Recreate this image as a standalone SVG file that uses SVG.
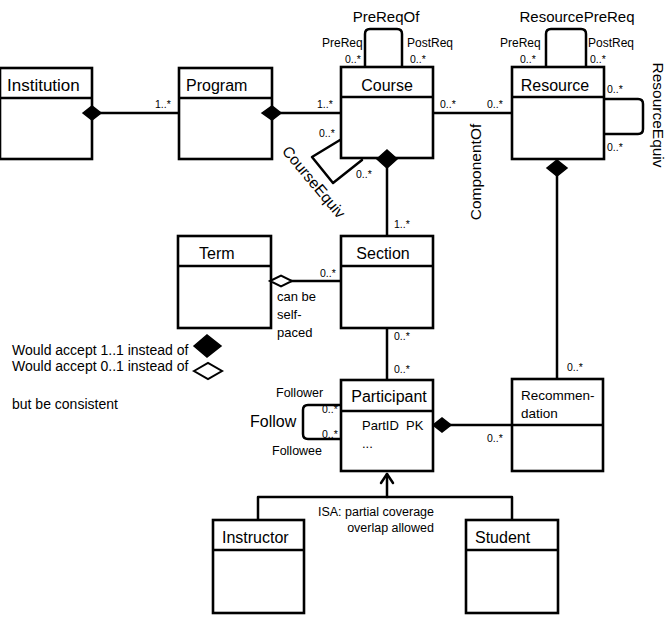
<svg xmlns="http://www.w3.org/2000/svg" width="665" height="618" viewBox="0 0 665 618">
<style>
.box{fill:#fff;stroke:#000;stroke-width:2.6}
.sep{stroke:#000;stroke-width:2.6}
.ln{fill:none;stroke:#000;stroke-width:2.5;stroke-linejoin:round;stroke-linecap:round}
.t{font-family:"Liberation Sans",Arial,sans-serif;fill:#000}
.cn{font-size:16px}
.m{font-size:10.5px}
.r{font-size:12px}
.a{font-size:15.5px}
.fd{fill:#000;stroke:#000;stroke-width:1.5}
.od{fill:#fff;stroke:#000;stroke-width:2}
</style>
<rect width="665" height="618" fill="#fff"/>

<g id="connectors">
  <!-- Institution - Program -->
  <path class="ln" d="M92,113 H179"/>
  <text class="t m" x="155" y="108">1..*</text>
  <!-- Program - Course -->
  <path class="ln" d="M272,113 H341"/>
  <text class="t m" x="317" y="108">1..*</text>
  <!-- PreReqOf -->
  <path class="ln" d="M365,67 V34 Q365,29 370,29 H397 Q402,29 402,34 V67"/>
  <text class="t a" x="386" y="22" text-anchor="middle" style="font-size:15px">PreReqOf</text>
  <text class="t r" x="322" y="47">PreReq</text>
  <text class="t m" x="345" y="63">0..*</text>
  <text class="t r" x="407" y="47">PostReq</text>
  <text class="t m" x="410" y="63">0..*</text>
  <!-- ResourcePreReq -->
  <path class="ln" d="M546,67 V34 Q546,29 551,29 H581 Q586,29 586,34 V67"/>
  <text class="t a" x="577" y="22" text-anchor="middle" style="font-size:15px">ResourcePreReq</text>
  <text class="t r" x="500" y="47">PreReq</text>
  <text class="t m" x="520" y="63">0..*</text>
  <text class="t r" x="588" y="47">PostReq</text>
  <text class="t m" x="590" y="63">0..*</text>
  <!-- ResourceEquiv -->
  <path class="ln" d="M604,99 H638 Q643,99 643,104 V129 Q643,134 638,134 H604"/>
  <text class="t m" x="607" y="93">0..*</text>
  <text class="t m" x="607" y="151">0..*</text>
  <text class="t a" transform="translate(658,115) rotate(90)" y="5.5" text-anchor="middle">ResourceEquiv</text>
  <!-- ComponentOf -->
  <path class="ln" d="M433,113 H512"/>
  <text class="t m" x="440" y="108">0..*</text>
  <text class="t m" x="487" y="108">0..*</text>
  <text class="t a" transform="translate(475,172) rotate(-90)" y="5.5" text-anchor="middle">ComponentOf</text>
  <!-- CourseEquiv -->
  <path class="ln" d="M340,140 L312,157 L333,183 L362,160"/>
  <text class="t m" x="319" y="137">0..*</text>
  <text class="t m" x="356" y="178">0..*</text>
  <text class="t a" transform="translate(314,182) rotate(50)" y="5.5" text-anchor="middle">CourseEquiv</text>
  <!-- Course - Section -->
  <path class="ln" d="M387,158 V236"/>
  <text class="t m" x="394" y="228">1..*</text>
  <!-- Term - Section -->
  <path class="ln" d="M281,281 H341"/>
  <text class="t m" x="320" y="277">0..*</text>
  <text class="t" style="font-size:13px" x="277" y="301">can be</text>
  <text class="t" style="font-size:13px" x="277" y="319">self-</text>
  <text class="t" style="font-size:13px" x="277" y="337">paced</text>
  <!-- Section - Participant -->
  <path class="ln" d="M387,328 V380"/>
  <text class="t m" x="394" y="340">0..*</text>
  <text class="t m" x="394" y="373">0..*</text>
  <!-- Follow -->
  <path class="ln" d="M341,405 H308 Q303,405 303,410 V434 Q303,439 308,439 H341"/>
  <text class="t" style="font-size:12.5px" x="276" y="397">Follower</text>
  <text class="t" style="font-size:12.5px" x="272" y="455">Followee</text>
  <text class="t" style="font-size:16px" x="250" y="427">Follow</text>
  <text class="t m" x="322" y="413">0..*</text>
  <text class="t m" x="322" y="438">0..*</text>
  <!-- Participant - Recommendation -->
  <path class="ln" d="M442,425 H512"/>
  <text class="t m" x="487" y="442">0..*</text>
  <!-- Resource - Recommendation -->
  <path class="ln" d="M557,160 V379"/>
  <text class="t m" x="567" y="371">0..*</text>
  <!-- ISA -->
  <path class="ln" d="M387,497 V474"/>
  <path class="ln" d="M381,483 L387,474 L393,483"/>
  <path class="ln" d="M258,520 V497 H512 V520"/>
  <text class="t" style="font-size:12.5px" x="434" y="516" text-anchor="end">ISA: partial coverage</text>
  <text class="t" style="font-size:12.5px" x="434" y="532" text-anchor="end">overlap allowed</text>
</g>

<g id="Institution">
  <rect class="box" x="0" y="68" width="92" height="91"/>
  <line class="sep" x1="0" y1="98" x2="92" y2="98"/>
  <text class="t cn" x="7" y="91" style="font-size:17px">Institution</text>
  <path class="fd" d="M83,113 L92,106 L101,113 L92,120 Z"/>
</g>
<g id="Program">
  <rect class="box" x="179" y="68" width="93" height="91"/>
  <line class="sep" x1="179" y1="98" x2="272" y2="98"/>
  <text class="t cn" x="186" y="91">Program</text>
  <path class="fd" d="M262,113 L272,106 L281,113 L272,120 Z"/>
</g>
<g id="Course">
  <rect class="box" x="341" y="67" width="92" height="91"/>
  <line class="sep" x1="341" y1="97" x2="433" y2="97"/>
  <text class="t cn" x="387" y="91" text-anchor="middle">Course</text>
  <path class="fd" d="M387,150 L397,159 L387,168 L377,159 Z"/>
</g>
<g id="Resource">
  <rect class="box" x="512" y="67" width="92" height="92"/>
  <line class="sep" x1="512" y1="97" x2="604" y2="97"/>
  <text class="t cn" x="555" y="91" text-anchor="middle">Resource</text>
  <path class="fd" d="M557,160 L567,168 L557,176 L547,168 Z"/>
</g>
<g id="Term">
  <rect class="box" x="178" y="236" width="93" height="92"/>
  <line class="sep" x1="178" y1="266" x2="271" y2="266"/>
  <text class="t cn" x="199" y="259">Term</text>
  <path class="od" d="M270,281 L281,275.5 L292,281 L281,286.5 Z"/>
</g>
<g id="Section">
  <rect class="box" x="341" y="236" width="92" height="92"/>
  <line class="sep" x1="341" y1="266" x2="433" y2="266"/>
  <text class="t cn" x="383" y="259" text-anchor="middle">Section</text>
</g>
<g id="Participant">
  <rect class="box" x="341" y="380" width="92" height="91"/>
  <line class="sep" x1="341" y1="411" x2="433" y2="411"/>
  <text class="t cn" x="389" y="402" text-anchor="middle">Participant</text>
  <text class="t" style="font-size:13px" x="362" y="430" xml:space="preserve">PartID  PK</text>
  <text class="t" style="font-size:13px" x="362" y="448">...</text>
  <path class="fd" d="M433,425 L442,418 L451,425 L442,432 Z"/>
</g>
<g id="Recommendation">
  <rect class="box" x="512" y="379" width="91" height="92"/>
  <line class="sep" x1="512" y1="425" x2="603" y2="425"/>
  <text class="t" style="font-size:13.5px" x="521" y="400">Recommen-</text>
  <text class="t" style="font-size:13.5px" x="521" y="418">dation</text>
</g>
<g id="Instructor">
  <rect class="box" x="213" y="520" width="91" height="93"/>
  <line class="sep" x1="213" y1="550" x2="304" y2="550"/>
  <text class="t cn" x="222" y="543">Instructor</text>
</g>
<g id="Student">
  <rect class="box" x="466" y="520" width="92" height="93"/>
  <line class="sep" x1="466" y1="550" x2="558" y2="550"/>
  <text class="t cn" x="475" y="543">Student</text>
</g>

<g id="note">
  <text class="t" style="font-size:14px" x="12" y="355">Would accept 1..1 instead of</text>
  <text class="t" style="font-size:14px" x="12" y="371">Would accept 0..1 instead of</text>
  <text class="t" style="font-size:14px" x="12" y="409">but be consistent</text>
  <path class="fd" d="M194,346 L207,335 L221,346 L207,357 Z"/>
  <path class="od" d="M194,371 L208,363 L222,371 L208,379 Z"/>
</g>
</svg>
